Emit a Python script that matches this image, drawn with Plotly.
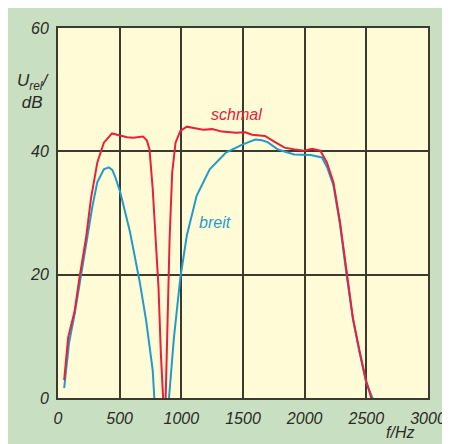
import plotly.graph_objects as go

# ---- data ----
schmal_f = [50, 82, 135, 174, 227, 267, 319, 372, 438, 504, 560, 610, 650, 689, 720, 742, 768, 794,
            815, 834, 847, 860, 873, 887, 905, 926, 953, 992, 1045, 1100, 1177, 1250, 1330, 1441,
            1520, 1573, 1678, 1760, 1837, 1920, 1995, 2060, 2127, 2180, 2233, 2286, 2338, 2391,
            2444, 2497, 2537, 2550]
schmal_v = [2.9, 9.8, 14.1, 19.5, 25.9, 32.3, 38.2, 41.4, 42.9, 42.6, 42.3, 42.2, 42.3, 42.4, 41.8,
            40.3, 33.9, 25.9, 17.9, 7.2, 0.0, -3.0, 0.0, 12.5, 25.9, 36.6, 41.4, 43.3, 44.0, 43.8,
            43.5, 43.6, 43.2, 43.0, 43.1, 42.7, 42.5, 41.5, 40.6, 40.3, 40.1, 40.4, 40.1, 38.2,
            35.0, 28.6, 20.5, 13.0, 7.7, 2.9, 0.2, -1.0]

breit_f = [50, 90, 135, 187, 240, 280, 319, 372, 412, 440, 465, 504, 583, 662, 715, 768, 781, 840,
           900, 940, 992, 1045, 1124, 1230, 1362, 1494, 1599, 1652, 1700, 1784, 1916, 2048, 2140,
           2180, 2233, 2286, 2338, 2391, 2444, 2497, 2550, 2560]
breit_v = [1.6, 9.0, 13.6, 20.0, 25.9, 31.2, 35.0, 37.1, 37.4, 37.0, 35.8, 33.4, 27.0, 18.9, 12.5,
           4.5, 0.0, -5.0, 0.0, 9.8, 19.5, 26.4, 32.8, 37.1, 39.8, 41.1, 41.9, 41.8, 41.5, 40.3,
           39.5, 39.4, 39.0, 37.5, 34.5, 28.2, 20.2, 12.8, 7.5, 2.6, 0.0, -1.0]

x_ticks = [0, 500, 1000, 1500, 2000, 2500, 3000]
y_ticks = [0, 20, 40, 60]

RED = "#e8203c"
BLUE = "#1f9bcc"
GREEN = "#c9dfc1"
YELLOW = "#fffbd6"
GRID = "#3a3a2e"
TXT = "#2a2a26"
FONT = "Liberation Sans"

fig = go.Figure()
fig.add_trace(go.Scatter(x=breit_f, y=breit_v, mode="lines", name="breit",
                         line=dict(color=BLUE, width=2)))
fig.add_trace(go.Scatter(x=schmal_f, y=schmal_v, mode="lines", name="schmal",
                         line=dict(color=RED, width=2)))

tickfont = dict(family=FONT, size=16, color=TXT, style="italic")
fig.update_xaxes(range=[0, 3000], tickvals=x_ticks, ticktext=[str(t) for t in x_ticks],
                 showgrid=True, gridcolor=GRID, gridwidth=1.5, zeroline=False,
                 showline=True, mirror=True, linecolor=GRID, linewidth=2,
                 ticks="outside", ticklen=5, tickcolor="rgba(0,0,0,0)", tickfont=tickfont)
fig.update_yaxes(range=[0, 60], tickvals=y_ticks, ticktext=[str(t) for t in y_ticks],
                 showgrid=True, gridcolor=GRID, gridwidth=1.5, zeroline=False,
                 showline=True, mirror=True, linecolor=GRID, linewidth=2,
                 ticks="outside", ticklen=4, tickcolor="rgba(0,0,0,0)", tickfont=tickfont)

# figure is placed at (8,8) in the page (default body margin)
L, R, T, B = 50, 21, 16, 54
W, H = 450, 444
pw, ph = W - L - R, H - T - B

def px(xp):
    return (xp - L) / pw

def py(yp):
    return (H - B - yp) / ph

annotations = [
    dict(text="U<sub>rel</sub>/<br>dB", xref="paper", yref="paper", x=px(25), y=py(80),
         showarrow=False, font=dict(family=FONT, size=17, color=TXT, style="italic"),
         xanchor="center", yanchor="middle", align="center"),
    dict(text="f/Hz", xref="paper", yref="paper", x=px(400), y=py(425),
         showarrow=False, font=dict(family=FONT, size=16, color=TXT, style="italic"),
         xanchor="center", yanchor="middle"),
    dict(text="schmal", x=1449, y=46.0, xref="x", yref="y", showarrow=False,
         font=dict(family=FONT, size=16, color=RED, style="italic")),
    dict(text="breit", x=1275, y=28.4, xref="x", yref="y", showarrow=False,
         font=dict(family=FONT, size=16, color=BLUE, style="italic")),
]

fig.update_layout(width=W, height=H, autosize=False,
                  margin=dict(l=L, r=R, t=T, b=B, pad=0),
                  paper_bgcolor=GREEN, plot_bgcolor=YELLOW,
                  showlegend=False, annotations=annotations)

fig.write_html("out.html")
